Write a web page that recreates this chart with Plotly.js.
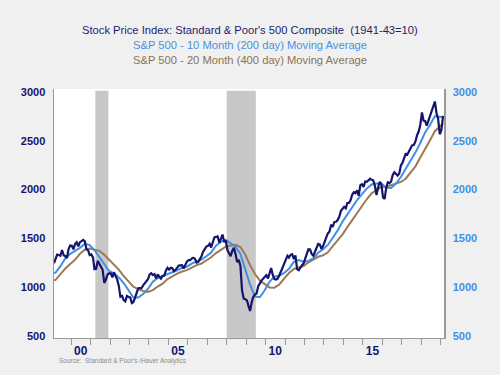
<!DOCTYPE html>
<html>
<head>
<meta charset="utf-8">
<script src="https://cdn.plot.ly/plotly-3.0.1.min.js"></script>
<style>
html,body{margin:0;padding:0;background:#f0f0f0;}
#chart{width:500px;height:375px;}
</style>
</head>
<body>
<div id="chart"></div>
<script>
// Monthly S&P 500 values, Feb 1999 .. Feb 2019
const spxStart = [1999, 2];
const spx = [
  1246, 1282, 1335, 1330, 1322, 1381, 1327, 1318, 1300, 1391, 1428,
  1425, 1388, 1442, 1461, 1418, 1462, 1473, 1485, 1469, 1390, 1379, 1330,
  1336, 1305, 1185, 1189, 1270, 1238, 1205, 1179, 1044, 1077, 1129, 1144,
  1140, 1101, 1154, 1112, 1080, 1014, 903, 912, 868, 855, 910, 900,
  895, 838, 846, 891, 945, 989, 991, 990, 1019, 1039, 1050, 1081,
  1132, 1144, 1124, 1134, 1091, 1131, 1106, 1088, 1117, 1118, 1169, 1199,
  1181, 1199, 1195, 1164, 1178, 1202, 1222, 1224, 1225, 1192, 1237, 1262,
  1278, 1277, 1293, 1302, 1290, 1253, 1260, 1287, 1317, 1364, 1389, 1416,
  1424, 1445, 1407, 1463, 1511, 1515, 1521, 1455, 1497, 1539, 1463, 1479,
  1379, 1354, 1317, 1371, 1403, 1341, 1257, 1281, 1217, 969, 884, 878,
  866, 806, 757, 848, 902, 926, 936, 1010, 1045, 1068, 1088, 1111,
  1124, 1090, 1153, 1197, 1125, 1083, 1079, 1088, 1122, 1172, 1199, 1242,
  1282, 1321, 1304, 1332, 1338, 1288, 1325, 1185, 1174, 1207, 1226, 1244,
  1300, 1352, 1389, 1386, 1341, 1323, 1359, 1404, 1443, 1437, 1394, 1422,
  1480, 1512, 1551, 1570, 1640, 1619, 1668, 1670, 1688, 1721, 1783, 1807,
  1823, 1809, 1863, 1864, 1890, 1947, 1973, 1962, 1993, 1937, 2045, 2055,
  2028, 2083, 2080, 2094, 2111, 2100, 2095, 2039, 1944, 2024, 2080, 2054,
  1919, 1904, 2022, 2075, 2066, 2083, 2149, 2177, 2158, 2143, 2165, 2247,
  2275, 2329, 2366, 2359, 2395, 2434, 2454, 2456, 2493, 2557, 2594, 2664,
  2790, 2705, 2703, 2654, 2701, 2754, 2794, 2858, 2902, 2785, 2723, 2567,
  2607, 2754
];

// Moving averages read at quarter points
const maDates = [
  '1999-02-15','1999-03-15','1999-06-15','1999-09-15','1999-12-15',
  '2000-03-15','2000-06-15','2000-09-15','2000-12-15',
  '2001-03-15','2001-06-15','2001-09-15','2001-12-15',
  '2002-03-15','2002-06-15','2002-09-15','2002-12-15',
  '2003-03-15','2003-06-15','2003-09-15','2003-12-15',
  '2004-03-15','2004-06-15','2004-09-15','2004-12-15',
  '2005-03-15','2005-06-15','2005-09-15','2005-12-15',
  '2006-03-15','2006-06-15','2006-09-15','2006-12-15',
  '2007-03-15','2007-06-15','2007-09-15','2007-12-15',
  '2008-03-15','2008-06-15','2008-09-15','2008-12-15',
  '2009-03-15','2009-06-15','2009-09-15','2009-12-15',
  '2010-03-15','2010-06-15','2010-09-15','2010-12-15',
  '2011-03-15','2011-06-15','2011-09-15','2011-12-15',
  '2012-03-15','2012-06-15','2012-09-15','2012-12-15',
  '2013-03-15','2013-06-15','2013-09-15','2013-12-15',
  '2014-03-15','2014-06-15','2014-09-15','2014-12-15',
  '2015-03-15','2015-06-15','2015-09-15','2015-12-15',
  '2016-03-15','2016-06-15','2016-09-15','2016-12-15',
  '2017-03-15','2017-06-15','2017-09-15','2017-12-15',
  '2018-03-15','2018-06-15','2018-09-15','2018-12-15',
  '2019-02-15'
];
const ma10 = [
  1145, 1150, 1215, 1298, 1341,
  1372, 1403, 1445, 1431,
  1381, 1309, 1228, 1166,
  1141, 1100, 1043, 971,
  894, 894, 930, 984,
  1056, 1095, 1115, 1128,
  1150, 1172, 1199, 1210,
  1241, 1261, 1282, 1317,
  1356, 1425, 1465, 1485,
  1452, 1414, 1340, 1192,
  1026, 905, 897, 969,
  1055, 1108, 1117, 1146,
  1189, 1260, 1279, 1262,
  1269, 1294, 1354, 1390,
  1433, 1507, 1582, 1672,
  1745, 1820, 1893, 1953,
  2010, 2053, 2063, 2062,
  2018, 2017, 2061, 2129,
  2209, 2287, 2381, 2477,
  2585, 2662, 2753, 2744,
  2745
];
const ma20 = [
  1070, 1075, 1134, 1192, 1237,
  1281, 1342, 1384, 1396,
  1386, 1373, 1332, 1285,
  1238, 1181, 1113, 1062,
  1005, 981, 961, 951,
  971, 1007, 1037, 1083,
  1115, 1140, 1161, 1175,
  1201, 1227, 1243, 1273,
  1307, 1350, 1384, 1415,
  1427, 1435, 1411, 1332,
  1226, 1135, 1068, 1030,
  998, 995, 1028, 1088,
  1145, 1187, 1205, 1217,
  1255, 1288, 1312, 1327,
  1357, 1420, 1482, 1542,
  1615, 1686, 1768, 1838,
  1901, 1962, 1996, 2027,
  2029, 2045, 2063, 2078,
  2111, 2170, 2238, 2328,
  2423, 2505, 2598, 2649,
  2676
];

const recessionStart = ['2001-04-01', '2008-01-01'];
const recessionEnd = ['2001-12-01', '2009-07-01'];

const yearTicks = ['2000','2001','2002','2003','2004','2005','2006','2007','2008','2009',
                   '2010','2011','2012','2013','2014','2015','2016','2017','2018','2019'];
const labelVals = ['2000-07-01','2005-07-01','2010-07-01','2015-07-01'];
const labelText = ['00','05','10','15'];
const yTicks = [500, 1000, 1500, 2000, 2500, 3000];

const spxDates = spx.map((v, i) => {
  const m = spxStart[1] - 1 + i;
  const y = spxStart[0] + Math.floor(m / 12);
  const mm = String(m % 12 + 1).padStart(2, '0');
  return y + '-' + mm + '-15';
});

const NAVY = '#14146e';
const BLUE = '#3f8fe3';
const BROWN = '#9a7a57';
const xRange = ['1999-02-14', '2019-03-05'];
const yRange = [480, 3030];
const font = 'Arial, "Liberation Sans", sans-serif';

const traces = [
  {x: maDates, y: ma20, type: 'scatter', mode: 'lines', line: {color: BROWN, width: 2}, hoverinfo: 'skip'},
  {x: maDates, y: ma10, type: 'scatter', mode: 'lines', line: {color: BLUE, width: 2}, hoverinfo: 'skip'},
  {x: spxDates, y: spx, type: 'scatter', mode: 'lines', line: {color: NAVY, width: 2.2}, hoverinfo: 'skip'},
  // carrier trace so the label axis (x2) and right axis (y2) are drawn
  {x: spxDates, y: spx, xaxis: 'x2', yaxis: 'y2', type: 'scatter', mode: 'lines',
   line: {width: 0, color: 'rgba(0,0,0,0)'}, opacity: 0, hoverinfo: 'skip'}
];

const shapes = recessionStart.map((s, i) => ({
  type: 'rect', xref: 'x', yref: 'paper', x0: s, x1: recessionEnd[i], y0: 0, y1: 0.993,
  fillcolor: '#c8c8c8', line: {width: 0}, layer: 'below'
}));

const layout = {
  width: 500, height: 375,
  paper_bgcolor: '#f0f0f0', plot_bgcolor: '#ffffff',
  margin: {l: 54, r: 56, t: 89, b: 37},
  showlegend: false,
  font: {family: font},
  xaxis: {
    type: 'date', range: xRange, tickvals: yearTicks, ticktext: yearTicks.map(() => ''),
    ticks: 'outside', ticklen: 6, tickcolor: '#999999', showgrid: false, zeroline: false,
    showline: true, linecolor: '#999999', linewidth: 1
  },
  xaxis2: {
    type: 'date', range: xRange, overlaying: 'x', anchor: 'y', side: 'bottom',
    tickvals: labelVals, ticktext: labelText, ticks: '', showgrid: false, showline: false, zeroline: false,
    ticklabelstandoff: 4,
    tickfont: {size: 12, color: NAVY, family: font, weight: 'bold'}
  },
  yaxis: {
    range: yRange, tickvals: yTicks, ticks: '', showgrid: false, zeroline: false,
    showline: true, linecolor: '#999999', linewidth: 1.5, ticklabelstandoff: 5,
    tickfont: {size: 11, color: NAVY, family: font, weight: 'bold'}
  },
  yaxis2: {
    range: yRange, overlaying: 'y', side: 'right', anchor: 'x', tickvals: yTicks, ticks: '',
    showgrid: false, zeroline: false, showline: true, linecolor: '#999999', linewidth: 1.5,
    ticklabelstandoff: 5,
    tickfont: {size: 11, color: BLUE, family: font, weight: 'bold'}
  },
  shapes: shapes,
  annotations: [
    {text: 'Stock Price Index: Standard &amp; Poor\'s 500 Composite  (1941-43=10)', xref: 'paper', yref: 'paper',
     x: 0.502, y: (338 - 30) / 249, xanchor: 'center', yanchor: 'middle', showarrow: false,
     font: {size: 11.2, color: '#1c1c6e', family: font}},
    {text: 'S&amp;P 500 - 10 Month (200 day) Moving Average', xref: 'paper', yref: 'paper',
     x: 0.502, y: (338 - 45) / 249, xanchor: 'center', yanchor: 'middle', showarrow: false,
     font: {size: 11.2, color: '#4a90e2', family: font}},
    {text: 'S&amp;P 500 - 20 Month (400 day) Moving Average', xref: 'paper', yref: 'paper',
     x: 0.502, y: (338 - 60) / 249, xanchor: 'center', yanchor: 'middle', showarrow: false,
     font: {size: 11.2, color: '#8b7355', family: font}},
    {text: 'Source:  Standard &amp; Poor\'s /Haver Analytics', xref: 'paper', yref: 'paper',
     x: (57 - 54) / 390, y: (338 - 361) / 249, xanchor: 'left', yanchor: 'middle', showarrow: false,
     font: {size: 6.5, color: '#8a8a8a', family: font}}
  ]
};

Plotly.newPlot('chart', traces, layout, {staticPlot: true, displayModeBar: false});
</script>
</body>
</html>
